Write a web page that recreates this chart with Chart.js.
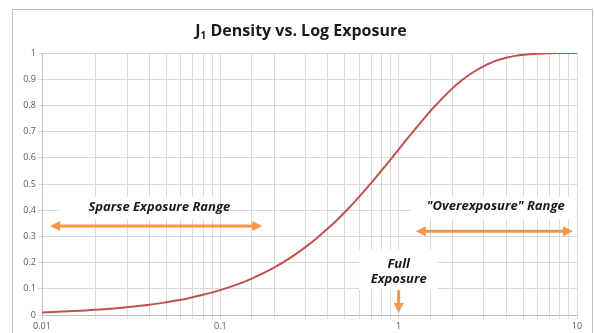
<!DOCTYPE html>
<html>
<head>
<meta charset="utf-8">
<script src="https://cdn.jsdelivr.net/npm/chart.js@4.4.1/dist/chart.umd.min.js"></script>
<style>
  body { margin: 0; background: #fff; }
  #wrap { width: 594px; height: 333px; }
</style>
</head>
<body>
<div id="wrap"><canvas id="chart" width="594" height="333"></canvas></div>
<script>
// exposure values (log axis) and density
const exposure = [0.01, 0.015, 0.02, 0.03, 0.04, 0.05, 0.06, 0.07, 0.08, 0.1, 0.12, 0.15, 0.2, 0.25, 0.3, 0.35, 0.4, 0.45, 0.5, 0.6, 0.7, 0.8, 0.9, 1, 1.1, 1.25, 1.5, 1.75, 2, 2.25, 2.5, 3, 3.5, 4, 4.5, 5, 6, 8, 10];
const density = [0.01, 0.015, 0.02, 0.03, 0.039, 0.049, 0.058, 0.068, 0.077, 0.095, 0.113, 0.139, 0.181, 0.221, 0.259, 0.295, 0.33, 0.362, 0.393, 0.451, 0.503, 0.551, 0.593, 0.632, 0.667, 0.713, 0.777, 0.826, 0.865, 0.895, 0.918, 0.95, 0.97, 0.982, 0.989, 0.993, 0.997, 0.9997, 1.0];
const xLabels = [0.01, 0.1, 1, 10];
const yTicks = [0, 0.1, 0.2, 0.3, 0.4, 0.5, 0.6, 0.7, 0.8, 0.9, 1];

const titleText = ['J', '1', ' Density vs. Log Exposure'];
const lineColor = '#c0504d';
const orange = '#f79646';
const tickFont = { family: 'Open Sans', size: 9 };

function arrowHead(ctx, x, y, dx, dy) {
  // dx, dy: unit direction the arrow points
  const len = 10, half = 5;
  ctx.beginPath();
  ctx.moveTo(x, y);
  ctx.lineTo(x - dx * len - dy * half, y - dy * len + dx * half);
  ctx.lineTo(x - dx * len + dy * half, y - dy * len - dx * half);
  ctx.closePath();
  ctx.fill();
}

function hArrow(ctx, x1, x2, y, both) {
  ctx.strokeStyle = orange;
  ctx.fillStyle = orange;
  ctx.lineWidth = 3;
  ctx.beginPath();
  ctx.moveTo(x1 + 6, y);
  ctx.lineTo(x2 - 6, y);
  ctx.stroke();
  arrowHead(ctx, x2, y, 1, 0);
  if (both) arrowHead(ctx, x1, y, -1, 0);
}

const decor = {
  id: 'decor',
  beforeDraw(chart) {
    const ctx = chart.ctx;
    ctx.save();
    ctx.strokeStyle = '#bfbfbf';
    ctx.lineWidth = 1;
    ctx.strokeRect(12.5, 9.5, 580, 340);
    // title with subscript
    ctx.fillStyle = '#1a1a1a';
    ctx.textBaseline = 'alphabetic';
    const big = 'bold 16px "Open Sans"';
    const small = 'bold 10px "Open Sans"';
    ctx.font = big;
    const w0 = ctx.measureText(titleText[0]).width;
    const w2 = ctx.measureText(titleText[2]).width;
    ctx.font = small;
    const w1 = ctx.measureText(titleText[1]).width;
    let x = 301 - (w0 + w1 + w2) / 2;
    const y = 36;
    ctx.font = big;
    ctx.fillText(titleText[0], x, y);
    x += w0;
    ctx.font = small;
    ctx.fillText(titleText[1], x, y + 3);
    x += w1;
    ctx.font = big;
    ctx.fillText(titleText[2], x, y);
    ctx.restore();
  },
  afterDatasetsDraw(chart) {
    const ctx = chart.ctx;
    const xs = chart.scales.x, ys = chart.scales.y;
    ctx.save();
    // white label boxes over the grid
    ctx.fillStyle = '#fff';
    ctx.fillRect(xs.getPixelForValue(0.0125), ys.getPixelForValue(0.45), xs.getPixelForValue(0.093) - xs.getPixelForValue(0.0125), 22);
    ctx.fillRect(xs.getPixelForValue(1.17), ys.getPixelForValue(0.45), xs.getPixelForValue(9.9) - xs.getPixelForValue(1.17), 22);
    ctx.fillRect(xs.getPixelForValue(0.6), ys.getPixelForValue(0.25), xs.getPixelForValue(1.65) - xs.getPixelForValue(0.6), 40);

    ctx.fillStyle = '#1a1a1a';
    ctx.font = 'italic bold 13px "Open Sans"';
    ctx.textAlign = 'center';
    ctx.textBaseline = 'middle';
    ctx.fillText('Sparse Exposure Range', xs.getPixelForValue(0.0455), ys.getPixelForValue(0.412));
    ctx.fillText('"Overexposure" Range', xs.getPixelForValue(3.5), ys.getPixelForValue(0.415));
    ctx.fillText('Full', xs.getPixelForValue(1), ys.getPixelForValue(0.195));
    ctx.fillText('Exposure', xs.getPixelForValue(1), ys.getPixelForValue(0.135));

    hArrow(ctx, xs.getPixelForValue(0.0111), xs.getPixelForValue(0.172), ys.getPixelForValue(0.34), true);
    hArrow(ctx, xs.getPixelForValue(1.246), xs.getPixelForValue(9.5), ys.getPixelForValue(0.32), true);

    // down arrow at full exposure
    const ax = xs.getPixelForValue(1);
    const top = ys.getPixelForValue(0.095), bot = ys.getPixelForValue(0.008);
    ctx.strokeStyle = orange;
    ctx.fillStyle = orange;
    ctx.lineWidth = 3;
    ctx.beginPath();
    ctx.moveTo(ax, top);
    ctx.lineTo(ax, bot - 6);
    ctx.stroke();
    arrowHead(ctx, ax, bot, 0, 1);
    ctx.restore();
  }
};

new Chart(document.getElementById('chart'), {
  type: 'line',
  data: {
    datasets: [{
      data: exposure.map((e, i) => ({ x: e, y: density[i] })),
      borderColor: lineColor,
      borderWidth: 2,
      pointRadius: 0,
      fill: false,
      cubicInterpolationMode: 'monotone'
    }]
  },
  options: {
    responsive: false,
    animation: false,
    layout: { padding: { left: 0, right: 17, top: 53, bottom: 0 } },
    plugins: { legend: { display: false }, tooltip: { enabled: false } },
    scales: {
      x: {
        type: 'logarithmic',
        min: 0.01,
        max: 10,
        afterFit(scale) { scale.height = 18; },
        grid: { color: '#d9d9d9', tickLength: 4 },
        border: { color: '#bfbfbf' },
        ticks: {
          autoSkip: false,
          maxRotation: 0,
          padding: 2,
          color: '#595959',
          font: tickFont,
          callback(v) { return xLabels.some(l => Math.abs(l - v) < l * 1e-6) ? String(v) : ''; }
        }
      },
      y: {
        min: 0,
        max: 1,
        afterFit(scale) { scale.width = 42; },
        afterBuildTicks(scale) { scale.ticks = yTicks.map(v => ({ value: v })); },
        grid: { color: '#d9d9d9', tickLength: 4 },
        border: { color: '#bfbfbf' },
        ticks: { padding: 2, color: '#595959', font: tickFont, callback(v) { return String(v); } }
      }
    }
  },
  plugins: [decor]
});
</script>
</body>
</html>
